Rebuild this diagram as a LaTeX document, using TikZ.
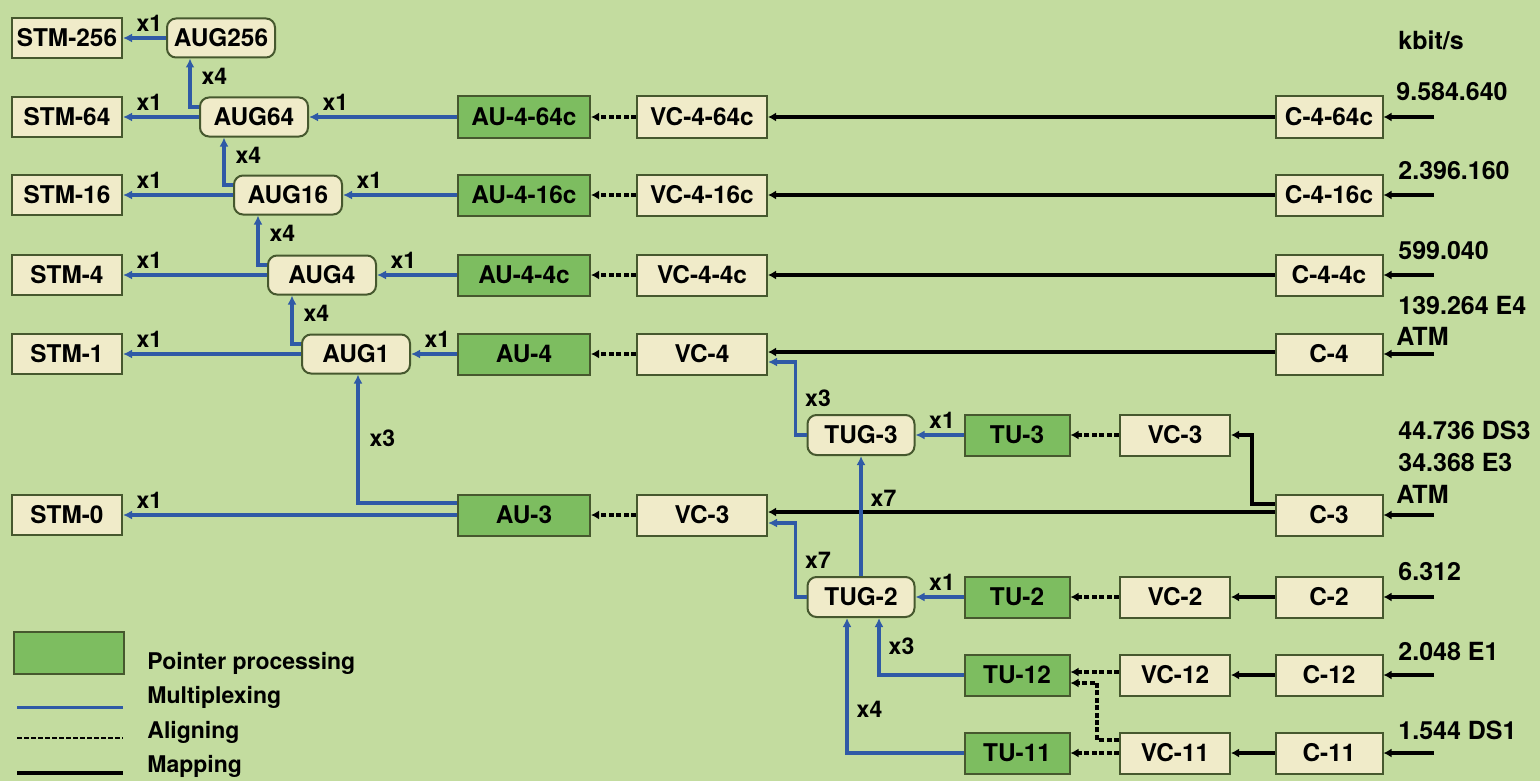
\documentclass[tikz,border=0pt]{standalone}
\usepackage{fontspec}
\setmainfont{TeX Gyre Heros}
\usetikzlibrary{arrows.meta,calc}
\definecolor{bgc}{HTML}{C3DC9F}
\definecolor{palec}{HTML}{F0EBC9}
\definecolor{greenc}{HTML}{7DBD60}
\definecolor{bordc}{HTML}{46582E}
\definecolor{bluec}{HTML}{2F5AA6}
\newcommand\bxfont{\bfseries\fontsize{12.2}{14}\selectfont}
\newcommand\lbfont{\bfseries\fontsize{11.5}{13}\selectfont}
\newcommand\rtfont{\bfseries\fontsize{12.5}{15}\selectfont}
\newcommand\lgfont{\bfseries\fontsize{11.5}{14}\selectfont}
\begin{document}
\begin{tikzpicture}[x=0.5pt,y=-0.5pt,
  box/.style={draw=bordc, line width=1pt, fill=palec, minimum height=20pt, inner sep=0pt, font=\bxfont},
  stm/.style={box, minimum width=55pt},
  aug/.style={box, rounded corners=4.5pt, minimum width=54pt, minimum height=19.5pt},
  au/.style={box, fill=greenc, minimum width=66pt, minimum height=20.5pt},
  vcb/.style={box, minimum width=65pt, minimum height=20.5pt},
  cbox/.style={box, minimum width=53.5pt, minimum height=20.5pt},
  tug/.style={box, rounded corners=4.5pt, minimum width=53.5pt, minimum height=20pt},
  tu/.style={box, fill=greenc, minimum width=52.5pt, minimum height=20.5pt},
  vcs/.style={box, minimum width=55pt, minimum height=20.5pt},
  mux/.style={draw=bluec, line width=1.7pt, -{Latex[length=4.5pt,width=4.5pt]}},
  alignl/.style={draw=black, line width=1.6pt, dash pattern=on 2.5pt off 1.2pt, -{Latex[length=4pt,width=4.5pt]}},
  mapl/.style={draw=black, line width=2pt, -{Latex[length=4pt,width=4.5pt]}},
  lbl/.style={font=\lbfont, inner sep=1pt},
  xl/.style={lbl, pos=1, anchor=south west, xshift=5pt, yshift=1.5pt},
  vl/.style={lbl, pos=1, anchor=north west, xshift=4pt, yshift=-3pt},
  rt/.style={font=\rtfont, inner sep=0pt, anchor=west},
  lg/.style={font=\lgfont, inner sep=0pt, anchor=west}
]
\fill[bgc] (0,0) rectangle (1540,781);
\useasboundingbox (0,0) rectangle (1540,781);

% STM column
\node[stm] (stm256) at (67,38) {STM-256};
\node[stm] (stm64) at (67,117) {STM-64};
\node[stm] (stm16) at (67,195) {STM-16};
\node[stm] (stm4) at (67,275) {STM-4};
\node[stm] (stm1) at (67,354) {STM-1};
\node[stm] (stm0) at (67,515) {STM-0};

% AUG
\node[aug] (aug256) at (221,38) {AUG256};
\node[aug] (aug64) at (254,117) {AUG64};
\node[aug] (aug16) at (288,195) {AUG16};
\node[aug] (aug4) at (322,275) {AUG4};
\node[aug] (aug1) at (356,354) {AUG1};

% AU
\node[au] (au464) at (524,117) {AU-4-64c};
\node[au] (au416) at (524,195) {AU-4-16c};
\node[au] (au44) at (524,275) {AU-4-4c};
\node[au] (au4) at (524,354) {AU-4};
\node[au] (au3) at (524,515) {AU-3};

% VC
\node[vcb] (vc464) at (702,117) {VC-4-64c};
\node[vcb] (vc416) at (702,195) {VC-4-16c};
\node[vcb] (vc44) at (702,275) {VC-4-4c};
\node[vcb] (vc4) at (702,354) {VC-4};
\node[vcb] (vc3) at (702,515) {VC-3};

% C
\node[cbox] (c464) at (1329,117) {C-4-64c};
\node[cbox] (c416) at (1329,195) {C-4-16c};
\node[cbox] (c44) at (1329,275) {C-4-4c};
\node[cbox] (c4) at (1329,354) {C-4};
\node[cbox] (c3) at (1329,515) {C-3};
\node[cbox] (c2) at (1329,597) {C-2};
\node[cbox] (c12) at (1329,675) {C-12};
\node[cbox] (c11) at (1329,753) {C-11};

% TUG, TU, VC small
\node[tug] (tug3) at (861,435) {TUG-3};
\node[tug] (tug2) at (861,597) {TUG-2};
\node[tu] (tu3) at (1017,435) {TU-3};
\node[tu] (tu2) at (1017,597) {TU-2};
\node[tu] (tu12) at (1017,675) {TU-12};
\node[tu] (tu11) at (1017,753) {TU-11};
\node[vcs] (vc3u) at (1175,435) {VC-3};
\node[vcs] (vc2) at (1175,597) {VC-2};
\node[vcs] (vc12) at (1175,675) {VC-12};
\node[vcs] (vc11) at (1175,753) {VC-11};

% input coordinates
\coordinate (i464) at (1434,117);
\coordinate (i416) at (1434,195);
\coordinate (i44) at (1434,275);
\coordinate (i4) at (1434,354);
\coordinate (i3) at (1434,515);
\coordinate (i2) at (1434,597);
\coordinate (i12) at (1434,675);
\coordinate (i11) at (1434,753);

% STM <- AUG
\draw[mux] (aug256.west) -- node[xl] {x1} (stm256.east);
\draw[mux] (aug64.west) -- node[xl] {x1} (stm64.east);
\draw[mux] (aug16.west) -- node[xl] {x1} (stm16.east);
\draw[mux] (aug4.west) -- node[xl] {x1} (stm4.east);
\draw[mux] (aug1.west) -- node[xl] {x1} (stm1.east);
\draw[mux] (au3.west) -- node[xl] {x1} (stm0.east);

% AUG chain x4
\draw[mux] ($(aug64.west)+(0,-10)$) -| node[vl] {x4} ($(aug256.south)+(-31,0)$);
\draw[mux] ($(aug16.west)+(0,-10)$) -| node[vl] {x4} ($(aug64.south)+(-30,0)$);
\draw[mux] ($(aug4.west)+(0,-10)$) -| node[vl] {x4} ($(aug16.south)+(-30,0)$);
\draw[mux] ($(aug1.west)+(0,-10)$) -| node[vl] {x4} ($(aug4.south)+(-30,0)$);
\draw[mux] ($(au3.west)+(0,-12)$) -| node[lbl, pos=0.75, anchor=west, xshift=4pt] {x3} ($(aug1.south)+(2,0)$);

% AUG <- AU
\draw[mux] (au464.west) -- node[xl] {x1} (aug64.east);
\draw[mux] (au416.west) -- node[xl] {x1} (aug16.east);
\draw[mux] (au44.west) -- node[xl] {x1} (aug4.east);
\draw[mux] (au4.west) -- node[xl] {x1} (aug1.east);

% AU <- VC (aligning)
\draw[alignl] (vc464.west) -- (au464.east);
\draw[alignl] (vc416.west) -- (au416.east);
\draw[alignl] (vc44.west) -- (au44.east);
\draw[alignl] (vc4.west) -- (au4.east);
\draw[alignl] (vc3.west) -- (au3.east);

% VC <- C (mapping)
\draw[mapl] (c464.west) -- (vc464.east);
\draw[mapl] (c416.west) -- (vc416.east);
\draw[mapl] (c44.west) -- (vc44.east);
\draw[mapl] ($(c4.west)+(0,-2)$) -- ($(vc4.east)+(0,-2)$);
\draw[mapl] ($(c3.west)+(0,-3)$) -- ($(vc3.east)+(0,-3)$);
\draw[mapl] ($(c3.west)+(0,-11)$) -- ++(-23,0) |- (vc3u.east);
\draw[mapl] (c2.west) -- (vc2.east);
\draw[mapl] (c12.west) -- (vc12.east);
\draw[mapl] (c11.west) -- (vc11.east);

% inputs
\draw[mapl] (i464) -- (c464.east);
\draw[mapl] (i416) -- (c416.east);
\draw[mapl] (i44) -- (c44.east);
\draw[mapl] (i4) -- (c4.east);
\draw[mapl] (i3) -- (c3.east);
\draw[mapl] (i2) -- (c2.east);
\draw[mapl] (i12) -- (c12.east);
\draw[mapl] (i11) -- (c11.east);

% TUG connections
\draw[mux] (tug3.west) -- ++(-11,0) |- node[lbl, pos=0.25, anchor=west, xshift=3pt] {x3} ($(vc4.east)+(0,8)$);
\draw[mux] (tug2.west) -- ++(-11,0) |- node[lbl, pos=0.25, anchor=west, xshift=3pt] {x7} ($(vc3.east)+(0,8)$);
\draw[mux] (tug2.north) -- node[lbl, pos=0.65, anchor=west, xshift=3pt] {x7} (tug3.south);
\draw[mux] (tu3.west) -- node[xl] {x1} (tug3.east);
\draw[mux] (tu2.west) -- node[xl] {x1} (tug2.east);
\draw[mux] (tu12.west) -| node[lbl, pos=0.75, anchor=west, xshift=3pt] {x3} ($(tug2.south)+(18,0)$);
\draw[mux] (tu11.west) -| node[lbl, pos=0.66, anchor=west, xshift=3pt] {x4} ($(tug2.south)+(-14,0)$);

% TU <- VC (aligning)
\draw[alignl] (vc3u.west) -- (tu3.east);
\draw[alignl] (vc2.west) -- (tu2.east);
\draw[alignl] ($(vc12.west)+(0,-3)$) -- ($(tu12.east)+(0,-3)$);
\draw[alignl] (vc11.west) -- (tu11.east);
\draw[alignl, line width=2pt] ($(vc11.west)+(0,-13)$) -- ++(-22,0) |- ($(tu12.east)+(0,8)$);

% right labels
\node[rt] (kb) at (1398,40) {kbit/s};
\node[rt] (r1) at (1396,92) {9.584.640};
\node[rt] (r2) at (1398,171) {2.396.160};
\node[rt] (r3) at (1398,251) {599.040};
\node[rt] (r4a) at (1398,305) {139.264 E4};
\node[rt] (r4b) at (1396,336) {ATM};
\node[rt] (r5a) at (1398,430) {44.736 DS3};
\node[rt] (r5b) at (1398,462) {34.368 E3};
\node[rt] (r5c) at (1396,494) {ATM};
\node[rt] (r6) at (1398,572) {6.312};
\node[rt] (r7) at (1398,651) {2.048 E1};
\node[rt] (r8) at (1398,730) {1.544 DS1};

% legend
\node[box, fill=greenc, minimum width=55pt, minimum height=21pt] (lgbox) at (69,653) {};
\node[lg] (lg1) at (147,663) {Pointer processing};
\node[lg] (lg2) at (147,697) {Multiplexing};
\node[lg] (lg3) at (147,732) {Aligning};
\node[lg] (lg4) at (147,766) {Mapping};
\draw[bluec, line width=1.5pt] (17,707) -- (123,707);
\draw[black, line width=1.3pt, dash pattern=on 2.5pt off 1pt] (17,738) -- (123,738);
\draw[black, line width=2pt] (17,773) -- (123,773);
\end{tikzpicture}
\end{document}
